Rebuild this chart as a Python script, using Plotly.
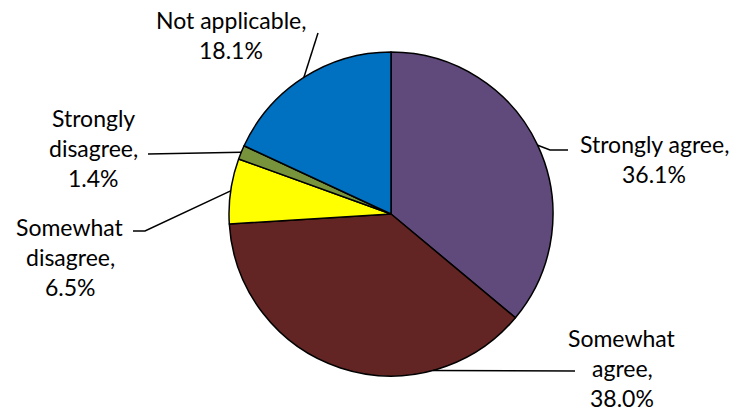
import math
import textwrap
import plotly.graph_objects as go

# Survey responses (share of respondents, %)
categories = ["Strongly agree", "Somewhat agree", "Somewhat disagree",
              "Strongly disagree", "Not applicable"]
shares = [36.1, 38.0, 6.5, 1.4, 18.1]
colors = ["#604A7B", "#632523", "#FFFF00", "#77933C", "#0070C0"]

W, H = 738, 413
CX, CY, R = 391, 214, 162          # pie centre and radius in pixels
FONT = dict(family="Lato, 'Open Sans', sans-serif", size=23, color="#000000")
LINE_H = 30

# Label placement: text centre (x, first line y), wrap width, leader path
label_layout = {
    "Strongly agree":    dict(x=654, y=144, wrap=15, path=[(550, 150), (568, 150)]),
    "Somewhat agree":    dict(x=622, y=338, wrap=9,  path=[(575, 371)], edge_deg=165),
    "Somewhat disagree": dict(x=70,  y=227, wrap=9,  path=[(145, 231), (133, 231)]),
    "Strongly disagree": dict(x=93,  y=118, wrap=9,  path=[(148, 154)]),
    "Not applicable":    dict(x=231, y=20,  wrap=15, path=[(318, 33)]),
}


def px(x):
    return x / W


def py(y):
    return 1 - y / H


fig = go.Figure(go.Pie(
    labels=categories,
    values=shares,
    sort=False,
    direction="clockwise",
    rotation=0,
    marker=dict(colors=colors, line=dict(color="#000000", width=1.5)),
    textinfo="none",
    hoverinfo="label+percent",
    domain=dict(x=[px(CX - R), px(CX + R)], y=[py(CY + R), py(CY - R)]),
    showlegend=False,
))

annotations = []
shapes = []
total = sum(shares)
cum = 0.0
for cat, val in zip(categories, shares):
    lay = label_layout[cat]
    mid = (cum + val / 2) / total * 360
    cum += val
    ang = math.radians(lay.get("edge_deg", mid))
    ex, ey = CX + R * math.sin(ang), CY - R * math.cos(ang)

    # leader line from slice edge to label
    pts = [(ex, ey)] + lay["path"]
    d = "M " + " L ".join(f"{px(x)},{py(y)}" for x, y in pts)
    shapes.append(dict(type="path", xref="paper", yref="paper", path=d,
                       line=dict(color="#000000", width=1.5)))

    text = f"{cat}, {val:.1f}%"
    for i, line in enumerate(textwrap.wrap(text, lay["wrap"])):
        annotations.append(dict(
            x=px(lay["x"]), y=py(lay["y"] + i * LINE_H),
            xref="paper", yref="paper", xanchor="center", yanchor="middle",
            text=line, showarrow=False, font=FONT,
        ))

fig.update_layout(
    width=W, height=H,
    margin=dict(l=0, r=0, t=0, b=0),
    paper_bgcolor="#FFFFFF",
    plot_bgcolor="#FFFFFF",
    annotations=annotations,
    shapes=shapes,
)

fig.write_html("out.html")
